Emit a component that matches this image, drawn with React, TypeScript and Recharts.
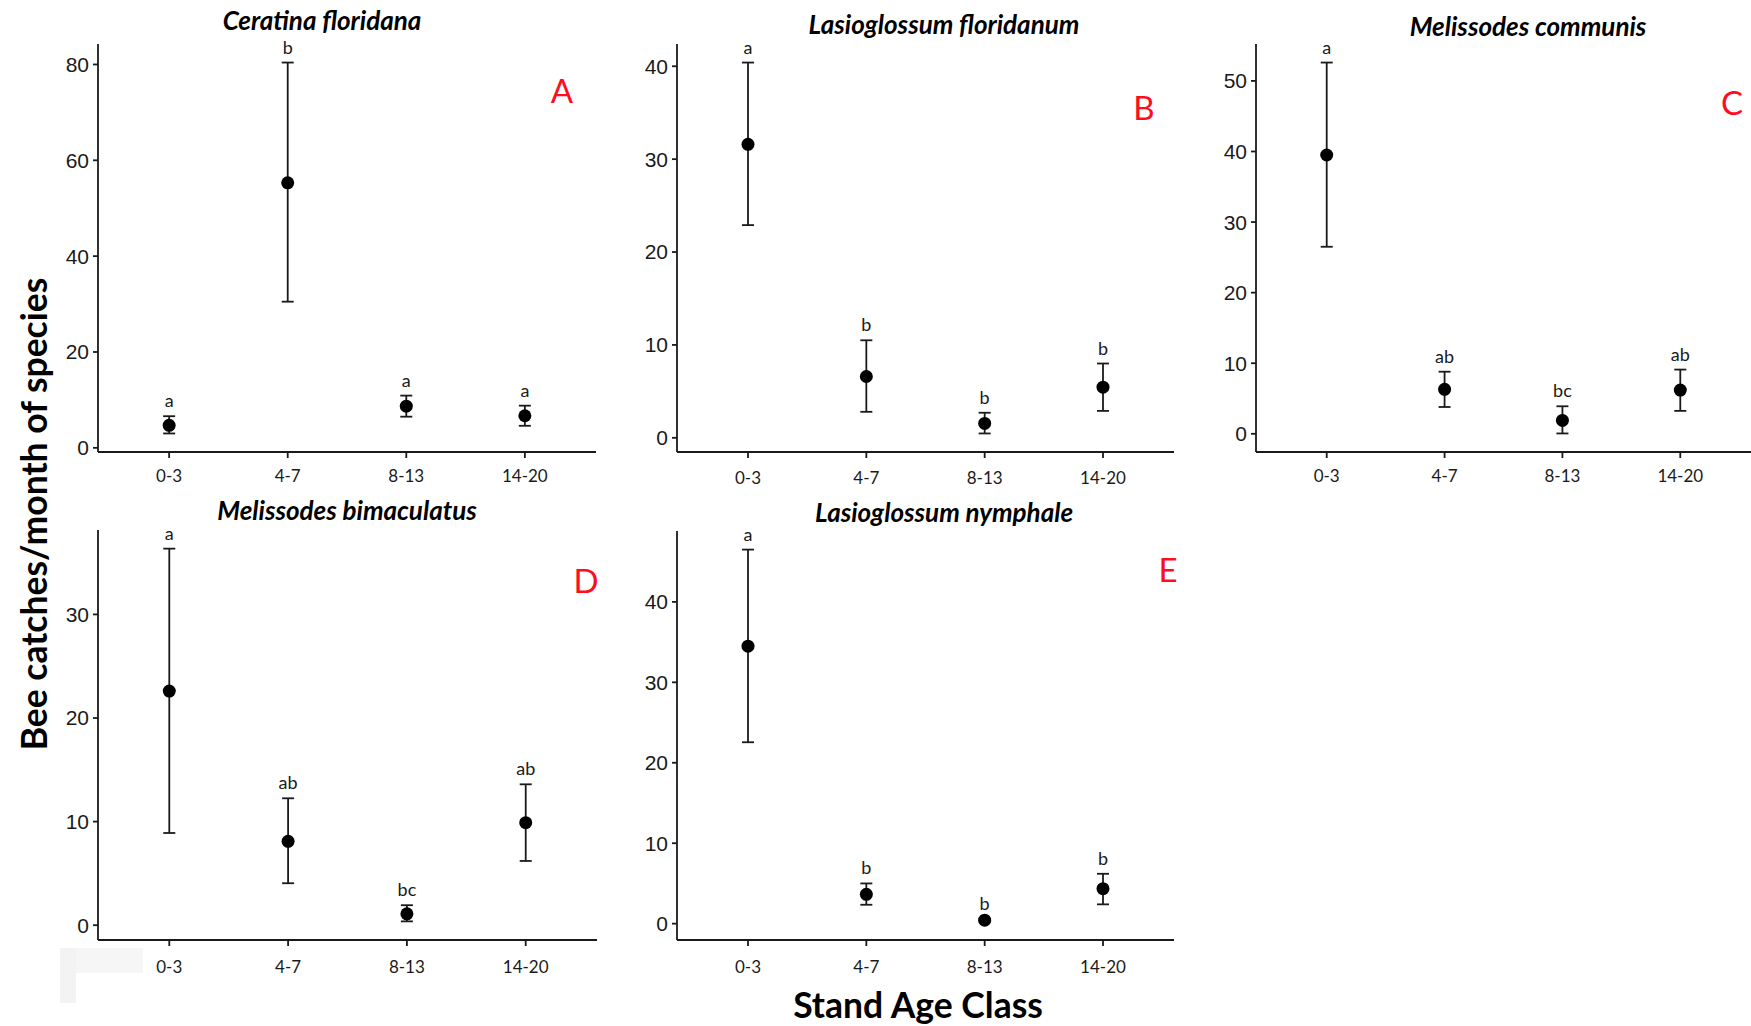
import React from 'react';
import { ScatterChart, Scatter, XAxis, YAxis, ErrorBar } from 'recharts';

const ageClasses = ['0-3', '4-7', '8-13', '14-20'];

const ceratinaMean = [4.7, 55.3, 8.7, 6.7];
const ceratinaLow = [3.0, 30.5, 6.5, 4.6];
const ceratinaHigh = [6.6, 80.4, 10.9, 8.8];
const ceratinaLetters = ['a', 'b', 'a', 'a'];
const ceratinaTicks = [0, 20, 40, 60, 80];

const lFloridanumMean = [31.6, 6.6, 1.55, 5.45];
const lFloridanumLow = [22.9, 2.8, 0.47, 2.9];
const lFloridanumHigh = [40.4, 10.5, 2.7, 8.0];
const lFloridanumLetters = ['a', 'b', 'b', 'b'];
const lFloridanumTicks = [0, 10, 20, 30, 40];

const mCommunisMean = [39.5, 6.3, 1.9, 6.2];
const mCommunisLow = [26.5, 3.8, 0.05, 3.25];
const mCommunisHigh = [52.6, 8.8, 3.9, 9.1];
const mCommunisLetters = ['a', 'ab', 'bc', 'ab'];
const mCommunisTicks = [0, 10, 20, 30, 40, 50];

const mBimaculatusMean = [22.6, 8.1, 1.1, 9.9];
const mBimaculatusLow = [8.9, 4.05, 0.37, 6.2];
const mBimaculatusHigh = [36.35, 12.25, 1.93, 13.6];
const mBimaculatusLetters = ['a', 'ab', 'bc', 'ab'];
const mBimaculatusTicks = [0, 10, 20, 30];

const lNymphaleMean = [34.5, 3.65, 0.43, 4.35];
const lNymphaleLow = [22.55, 2.35, 0.28, 2.4];
const lNymphaleHigh = [46.5, 5.0, 0.62, 6.2];
const lNymphaleLetters = ['a', 'b', 'b', 'b'];
const lNymphaleTicks = [0, 10, 20, 30, 40];

const INK = '#1a1a1a';
const SANS = 'Lato, "Open Sans", sans-serif';
const ARIAL = '"Liberation Sans", Arial, sans-serif';

type Panel = {
  title: string;
  tag: string;
  mean: number[];
  low: number[];
  high: number[];
  letters: string[];
  ticks: number[];
  left: number;
  top: number;
  width: number;
  height: number;
  right: number;
  tickGap: number;
  titleX: number;
  titleY: number;
  tagX: number;
  tagY: number;
};

const panels: Panel[] = [
  { title: 'Ceratina floridana', tag: 'A', mean: ceratinaMean, low: ceratinaLow, high: ceratinaHigh, letters: ceratinaLetters, ticks: ceratinaTicks,
    left: 38, top: 24, width: 563, height: 468, right: 5, tickGap: 12, titleX: 322, titleY: 20, tagX: 562, tagY: 90 },
  { title: 'Lasioglossum floridanum', tag: 'B', mean: lFloridanumMean, low: lFloridanumLow, high: lFloridanumHigh, letters: lFloridanumLetters, ticks: lFloridanumTicks,
    left: 617, top: 24, width: 562, height: 468, right: 5, tickGap: 14, titleX: 944, titleY: 24, tagX: 1144, tagY: 107 },
  { title: 'Melissodes communis', tag: 'C', mean: mCommunisMean, low: mCommunisLow, high: mCommunisHigh, letters: mCommunisLetters, ticks: mCommunisTicks,
    left: 1196, top: 24, width: 555, height: 468, right: 0, tickGap: 12, titleX: 1528, titleY: 26, tagX: 1732, tagY: 102 },
  { title: 'Melissodes bimaculatus', tag: 'D', mean: mBimaculatusMean, low: mBimaculatusLow, high: mBimaculatusHigh, letters: mBimaculatusLetters, ticks: mBimaculatusTicks,
    left: 38, top: 510, width: 564, height: 470, right: 5, tickGap: 15, titleX: 347, titleY: 510, tagX: 586, tagY: 580 },
  { title: 'Lasioglossum nymphale', tag: 'E', mean: lNymphaleMean, low: lNymphaleLow, high: lNymphaleHigh, letters: lNymphaleLetters, ticks: lNymphaleTicks,
    left: 617, top: 511, width: 562, height: 469, right: 5, tickGap: 15, titleX: 944, titleY: 512, tagX: 1168, tagY: 569 },
];

const Dot = (p: any) => <circle cx={p.cx} cy={p.cy} r={6.5} fill="#000" />;
const Letter = (p: any) => (
  <text x={p.cx} y={p.cy - 16} textAnchor="middle" dominantBaseline="central"
    fontFamily={SANS} fontSize={18} fill={INK}>{p.payload.letter}</text>
);

function PanelChart({ panel }: { panel: Panel }) {
  const points = panel.mean.map((m, i) => ({
    x: i + 1,
    y: m,
    err: [m - panel.low[i], panel.high[i] - m],
  }));
  const letterPoints = panel.high.map((h, i) => ({ x: i + 1, y: h, letter: panel.letters[i] }));
  const lo = Math.min(...panel.low);
  const hi = Math.max(...panel.high);
  const pad = (hi - lo) * 0.05;
  const domain = [lo - pad, hi + pad];
  return (
    <div style={{ position: 'absolute', left: panel.left, top: panel.top }}>
      <ScatterChart width={panel.width} height={panel.height}
        margin={{ top: 20, right: panel.right, bottom: 0, left: 0 }}
        style={{ overflow: 'visible' }}>
        <XAxis type="number" dataKey="x" domain={[0.4, 4.6]} ticks={[1, 2, 3, 4]}
          height={40}
          tickFormatter={(v: number) => ageClasses[v - 1]}
          axisLine={{ stroke: INK, strokeWidth: 1.8 }}
          tickLine={{ stroke: INK, strokeWidth: 1.8 }}
          tickSize={6} tickMargin={panel.tickGap}
          tick={{ fill: INK, fontSize: 17, fontFamily: SANS }} />
        <YAxis type="number" dataKey="y" domain={domain} ticks={panel.ticks}
          width={60}
          axisLine={{ stroke: INK, strokeWidth: 1.8 }}
          tickLine={{ stroke: INK, strokeWidth: 1.8 }}
          tickSize={5} tickMargin={4}
          tick={{ fill: INK, fontSize: 21, fontFamily: ARIAL }} />
        <Scatter data={points} shape={Dot} isAnimationActive={false}>
          <ErrorBar dataKey="err" direction="y" width={6} stroke={INK} strokeWidth={1.8} isAnimationActive={false} />
        </Scatter>
        <Scatter data={letterPoints} shape={Letter} isAnimationActive={false} />
      </ScatterChart>
    </div>
  );
}

export default function App() {
  return (
    <div style={{ position: 'absolute', left: 0, top: 0, width: 1751, height: 1026, background: '#fff', overflow: 'hidden' }}>
      <svg width={1751} height={1026} style={{ position: 'absolute', left: 0, top: 0 }}>
        <rect x={60} y={948} width={83} height={25} fill="#f6f6f6" />
        <rect x={60} y={948} width={16} height={55} fill="#f3f3f3" />
      </svg>
      {panels.map((p) => <PanelChart key={p.tag} panel={p} />)}
      <svg width={1751} height={1026} style={{ position: 'absolute', left: 0, top: 0, pointerEvents: 'none' }}>
        {panels.map((p) => (
          <g key={p.tag}>
            <text x={p.titleX} y={p.titleY} textAnchor="middle" dominantBaseline="central"
              fontFamily={SANS} fontWeight={700} fontStyle="italic" fontSize={26} fill="#000">{p.title}</text>
            <text x={p.tagX} y={p.tagY} textAnchor="middle" dominantBaseline="central"
              fontFamily={SANS} fontSize={33} fill="#ff0d1f">{p.tag}</text>
          </g>
        ))}
        <text x={33} y={514} textAnchor="middle" dominantBaseline="central" transform="rotate(-90 33 514)"
          fontFamily={SANS} fontWeight={700} fontSize={35.5} fill="#000">Bee catches/month of species</text>
        <text x={918} y={1004} textAnchor="middle" dominantBaseline="central"
          fontFamily={SANS} fontWeight={700} fontSize={35.5} fill="#000">Stand Age Class</text>
      </svg>
    </div>
  );
}
